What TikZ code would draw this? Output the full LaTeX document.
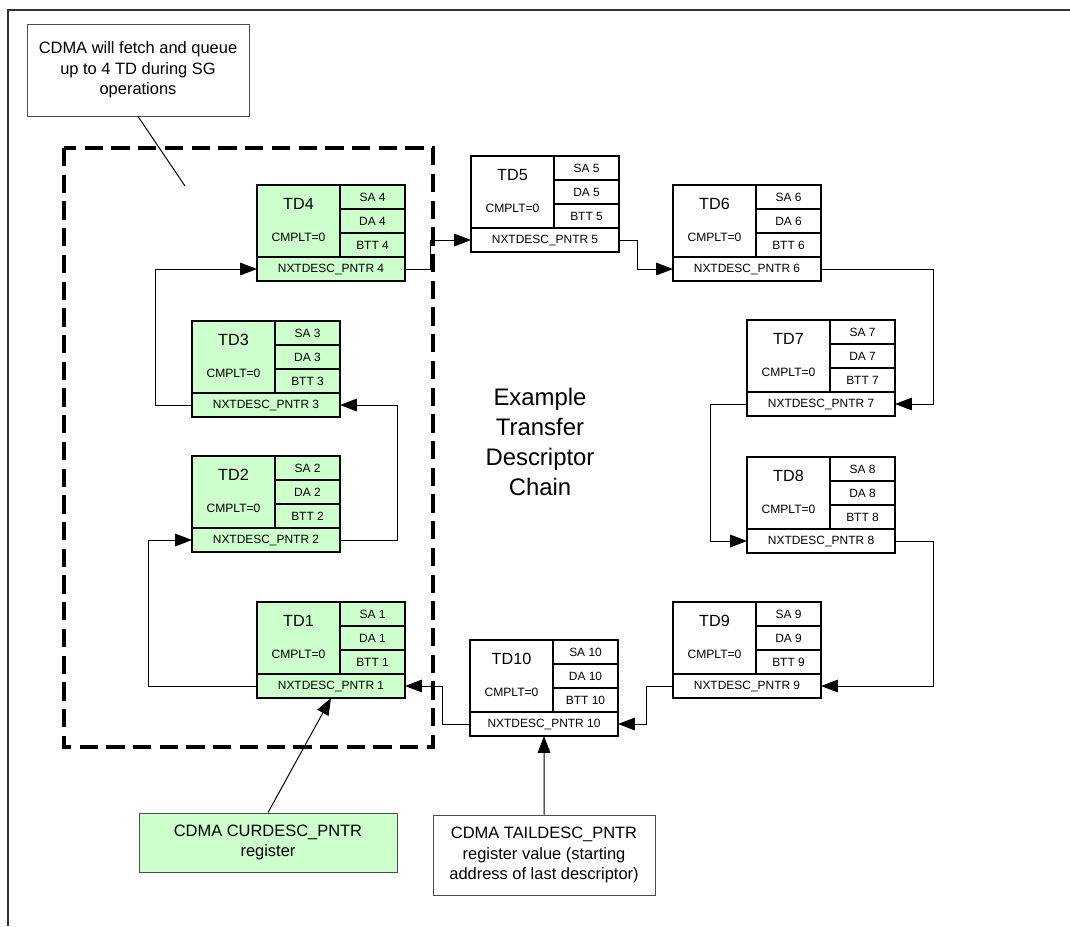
\documentclass[tikz,border=0pt]{standalone}
\usepackage{fontspec}
\setmainfont{Liberation Sans}
\usetikzlibrary{arrows.meta}
\definecolor{tdgreen}{RGB}{204,255,204}

\begin{document}
\begin{tikzpicture}[x=0.025cm,y=-0.025cm,
    cell/.style={draw,line width=1.2pt,outer sep=0pt,inner sep=0pt,font=\fontsize{8.5}{10}\selectfont},
    tdname/.style={inner sep=0pt,font=\fontsize{11.5}{13}\selectfont},
    cmplt/.style={inner sep=0pt,font=\fontsize{8.6}{10}\selectfont},
    link/.style={line width=0.7pt,-{Triangle[length=12pt,width=9pt]}},
    regbox/.style={draw=black!70,line width=0.6pt,align=center,font=\fontsize{11.7}{14.6}\selectfont},
    queuebox/.style={line width=2.4pt,dash pattern=on 13pt off 6pt}]
    \useasboundingbox (0,0) rectangle (1070,926);
    \draw[line width=1.3pt,black!80] (1070,10) -| (8,926);
    \draw[queuebox] (64,148) rectangle (433,747);
    \foreach \n/\x/\y/\c in {1/257/602/tdgreen,2/192/456/tdgreen,3/192/321/tdgreen,4/257/185/tdgreen,
        5/471/156/white,6/673/185/white,7/747/320/white,8/747/457/white,9/673/602/white,10/470/640/white}{
        \node[cell,fill=\c,minimum width=2.075cm,minimum height=1.8cm,anchor=north west] (td\n) at (\x,\y) {};
        \node[tdname] (lbl\n) at ([yshift=-0.475cm]td\n.north) {TD\n};
        \node[cmplt] (st\n) at ([yshift=0.5cm]td\n.south) {CMPLT=0};
        \node[cell,fill=\c,minimum width=1.625cm,minimum height=0.6cm,anchor=north west] (sa\n) at (td\n.north east) {SA \n};
        \node[cell,fill=\c,minimum width=1.625cm,minimum height=0.6cm,anchor=north west] (da\n) at (sa\n.south west) {DA \n};
        \node[cell,fill=\c,minimum width=1.625cm,minimum height=0.6cm,anchor=north west] (btt\n) at (da\n.south west) {BTT \n};
        \node[cell,fill=\c,minimum width=3.7cm,minimum height=0.6cm,anchor=north west] (nx\n) at (td\n.south west) {NXTDESC\_PNTR \n};
    }
    \draw[link] (nx1.west) -- ++(-109,0) |- (nx2.west);
    \draw[link] (nx2.east) -- ++(57,0) |- (nx3.east);
    \draw[link] (nx3.west) -- ++(-37,0) |- (nx4.west);
    \draw[link] (nx4.east) -- ++(25,0) |- (nx5.west);
    \draw[link] (nx5.east) -- ++(18,0) |- (nx6.west);
    \draw[link] (nx6.east) -- ++(112,0) |- (nx7.east);
    \draw[link] (nx7.west) -- ++(-37,0) |- (nx8.west);
    \draw[link] (nx8.east) -- ++(38,0) |- (nx9.east);
    \draw[link] (nx9.west) -- ++(-27,0) |- (nx10.east);
    \draw[link] (nx10.west) -- ++(-28,0) |- (nx1.east);
    \node[align=center,font=\fontsize{17}{21.3}\selectfont] (chain) at (540,442) {Example\\Transfer\\Descriptor\\Chain};
    \node[regbox,minimum width=5.55cm,minimum height=2.3cm] (fetch) at (138,70) {CDMA will fetch and queue\\up to 4 TD during SG\\operations};
    \coordinate (pin) at (185,186);
    \draw[line width=0.7pt] (fetch.south) -- (pin);
    \node[regbox,fill=tdgreen,minimum width=6.45cm,minimum height=1.475cm] (curdesc) at (268,842.5) {CDMA CURDESC\_PNTR\\register};
    \node[regbox,minimum width=5.55cm,minimum height=2cm] (taildesc) at (544,855) {CDMA TAILDESC\_PNTR\\register value (starting\\address of last descriptor)};
    \draw[link] (curdesc.north) -- (nx1.south);
    \draw[link] (taildesc.north) -- (nx10.south);
\end{tikzpicture}
\end{document}
